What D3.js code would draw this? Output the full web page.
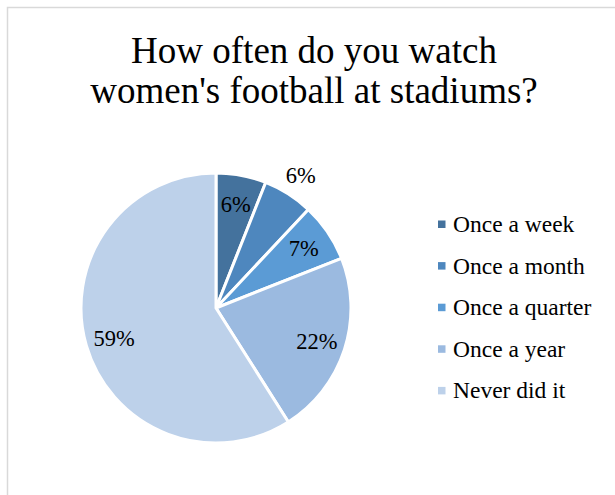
<!DOCTYPE html>
<html>
<head>
<script src="https://cdn.jsdelivr.net/npm/d3@7"></script>
</head>
<body style="margin:0">
<script>
// Survey answers: how often respondents attend women's football at stadiums
const categories = ["Once a week", "Once a month", "Once a quarter", "Once a year", "Never did it"];
const shares = [6, 6, 7, 22, 59];
const colors = ["#44729D", "#4E87BE", "#5B9BD5", "#9BBAE0", "#BDD1EA"];
const titleLines = ["How often do you watch", "women's football at stadiums?"];

const W = 615, H = 495;
const FONT = '"Times New Roman"';
const svg = d3.select("body").append("svg")
  .attr("width", W).attr("height", H);

// chart frame (runs off the right and bottom edges)
svg.append("rect")
  .attr("x", 7.5).attr("y", 7.5)
  .attr("width", 700).attr("height", 600)
  .attr("fill", "#fff").attr("stroke", "#D9D9D9").attr("stroke-width", 1.5);

// title
svg.selectAll("text.title").data(titleLines).join("text")
  .attr("class", "title")
  .attr("x", 314)
  .attr("y", (d, i) => 63 + i * 40)
  .attr("text-anchor", "middle")
  .style("font-family", FONT)
  .attr("font-size", 37)
  .text(d => d);

// pie
const cx = 216, cy = 308, R = 135;
const pie = d3.pie().sort(null).value(d => d.v);
const arcs = pie(categories.map((c, i) => ({ c, v: shares[i], col: colors[i] })));
const arc = d3.arc().innerRadius(0).outerRadius(R);

const g = svg.append("g").attr("transform", `translate(${cx},${cy})`);
g.selectAll("path").data(arcs).join("path")
  .attr("d", arc)
  .attr("fill", d => d.data.col)
  .attr("stroke", "#fff")
  .attr("stroke-width", 3)
  .attr("stroke-linejoin", "round");

// value labels: inside the slice, except the narrow second slice which sits outside
const inner = d3.arc().innerRadius(106).outerRadius(106);
const outer = d3.arc().innerRadius(158).outerRadius(158);
const outside = new Set([1]);
g.selectAll("text.val").data(arcs).join("text")
  .attr("class", "val")
  .attr("x", (d, i) => (outside.has(i) ? outer : inner).centroid(d)[0])
  .attr("y", (d, i) => (outside.has(i) ? outer : inner).centroid(d)[1] + 8)
  .attr("text-anchor", "middle")
  .style("font-family", FONT)
  .attr("font-size", 22.5)
  .text(d => d.data.v + "%");

// legend
const legendX = 438, legendY = 224, legendStep = 41.6;
svg.selectAll("rect.key").data(categories).join("rect")
  .attr("class", "key")
  .attr("x", legendX)
  .attr("y", (d, i) => legendY + i * legendStep - 3.5)
  .attr("width", 7.5).attr("height", 7.5)
  .attr("fill", (d, i) => colors[i]);
svg.selectAll("text.key").data(categories).join("text")
  .attr("class", "key")
  .attr("x", legendX + 15)
  .attr("y", (d, i) => legendY + i * legendStep + 8)
  .style("font-family", FONT)
  .attr("font-size", 23.5)
  .text(d => d);
</script>
</body>
</html>
